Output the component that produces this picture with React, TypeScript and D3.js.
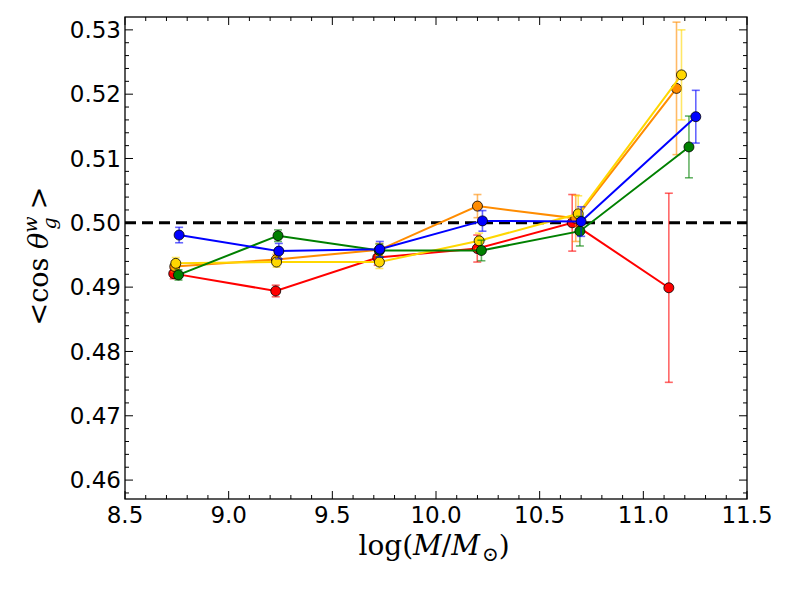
import React, { useRef, useEffect } from 'react';
import * as d3 from 'd3';

// mass bins (log M/Msun) per sample, slightly offset in x
const redX = [8.735, 9.227, 9.719, 10.199, 10.657, 11.123];
const redY = [0.4921, 0.4894, 0.4946, 0.496, 0.5, 0.4899];
const redErr = [0.0008, 0.0009, 0.0012, 0.0021, 0.0044, 0.0147];

const orangeX = [8.74, 9.23, 9.727, 10.2, 10.674, 11.16];
const orangeY = [0.4932, 0.4943, 0.4958, 0.5026, 0.5007, 0.5209];
const orangeErr = [0.0008, 0.0008, 0.001, 0.0018, 0.0036, 0.0103];

const yellowX = [8.745, 9.231, 9.727, 10.208, 10.686, 11.184];
const yellowY = [0.4937, 0.4939, 0.4939, 0.4972, 0.5014, 0.523];
const yellowErr = [0.0009, 0.0008, 0.001, 0.0012, 0.0028, 0.007];

const greenX = [8.758, 9.238, 9.727, 10.219, 10.694, 11.22];
const greenY = [0.4919, 0.498, 0.4957, 0.4957, 0.4987, 0.5118];
const greenErr = [0.0008, 0.0009, 0.001, 0.0016, 0.0023, 0.0048];

const blueX = [8.761, 9.242, 9.729, 10.224, 10.7, 11.253];
const blueY = [0.4981, 0.4956, 0.4959, 0.5003, 0.5002, 0.5165];
const blueErr = [0.0012, 0.0012, 0.0012, 0.0016, 0.0023, 0.0041];

const xTicks = [8.5, 9.0, 9.5, 10.0, 10.5, 11.0, 11.5];
const yTicks = [0.46, 0.47, 0.48, 0.49, 0.5, 0.51, 0.52, 0.53];

interface Series {
  color: string;
  xs: number[];
  ys: number[];
  errs: number[];
}

const series: Series[] = [
  { color: '#ff0000', xs: redX, ys: redY, errs: redErr },
  { color: '#ff8c00', xs: orangeX, ys: orangeY, errs: orangeErr },
  { color: '#ffd700', xs: yellowX, ys: yellowY, errs: yellowErr },
  { color: '#008000', xs: greenX, ys: greenY, errs: greenErr },
  { color: '#0000ff', xs: blueX, ys: blueY, errs: blueErr },
];

function App() {
  const svgRef = useRef<SVGSVGElement>(null);

  useEffect(() => {
    const svg = d3.select(svgRef.current);
    svg.selectAll('*').remove();

    const left = 125;
    const right = 747;
    const top = 17;
    const bottom = 499;

    const x = d3.scaleLinear().domain([8.5, 11.5]).range([left, right]);
    const y = d3.scaleLinear().domain([0.45706, 0.532]).range([bottom, top]);

    const g = svg.append('g');

    // reference line at 0.5
    g.append('line')
      .attr('x1', left)
      .attr('x2', right)
      .attr('y1', y(0.5))
      .attr('y2', y(0.5))
      .attr('stroke', '#000')
      .attr('stroke-width', 3)
      .attr('stroke-dasharray', '11,6');

    series.forEach((s) => {
      const pts = s.xs.map((v, i) => ({ x: v, y: s.ys[i], e: s.errs[i] }));
      const sg = g.append('g');

      // error bars
      const eb = sg.append('g').attr('stroke', s.color).attr('stroke-opacity', 0.6).attr('stroke-width', 1.6);
      pts.forEach((p) => {
        const px = x(p.x);
        eb.append('line').attr('x1', px).attr('x2', px).attr('y1', y(p.y - p.e)).attr('y2', y(p.y + p.e));
        [p.y - p.e, p.y + p.e].forEach((v) => {
          eb.append('line')
            .attr('x1', px - 4)
            .attr('x2', px + 4)
            .attr('y1', y(v))
            .attr('y2', y(v));
        });
      });

      const line = d3
        .line<{ x: number; y: number }>()
        .x((d) => x(d.x))
        .y((d) => y(d.y));

      sg.append('path')
        .attr('d', line(pts))
        .attr('fill', 'none')
        .attr('stroke', s.color)
        .attr('stroke-width', 2);

      sg.selectAll('circle')
        .data(pts)
        .enter()
        .append('circle')
        .attr('cx', (d) => x(d.x))
        .attr('cy', (d) => y(d.y))
        .attr('r', 5)
        .attr('fill', s.color)
        .attr('stroke', '#000')
        .attr('stroke-width', 0.8);
    });

    // frame
    g.append('rect')
      .attr('x', left)
      .attr('y', top)
      .attr('width', right - left)
      .attr('height', bottom - top)
      .attr('fill', 'none')
      .attr('stroke', '#000')
      .attr('stroke-width', 1.3);

    // ticks, inward on all four sides
    const ticks = g.append('g').attr('stroke', '#000').attr('stroke-width', 1);
    const xMinor = d3.range(85, 116).map((v) => v / 10);
    const yMinor = d3.range(229, 266).map((v) => v / 500);
    xMinor.forEach((v) => {
      const major = Math.abs(v * 2 - Math.round(v * 2)) < 1e-6;
      const len = major ? 8 : 4;
      ticks.append('line').attr('x1', x(v)).attr('x2', x(v)).attr('y1', bottom).attr('y2', bottom - len);
      ticks.append('line').attr('x1', x(v)).attr('x2', x(v)).attr('y1', top).attr('y2', top + len);
    });
    yMinor.forEach((v) => {
      if (v < 0.45706 || v > 0.532) return;
      const major = Math.abs(v * 100 - Math.round(v * 100)) < 1e-6;
      const len = major ? 8 : 4;
      ticks.append('line').attr('x1', left).attr('x2', left + len).attr('y1', y(v)).attr('y2', y(v));
      ticks.append('line').attr('x1', right).attr('x2', right - len).attr('y1', y(v)).attr('y2', y(v));
    });

    const tickFont = 'DejaVu Sans';
    g.append('g')
      .selectAll('text')
      .data(xTicks)
      .enter()
      .append('text')
      .attr('x', (d) => x(d))
      .attr('y', 523)
      .attr('text-anchor', 'middle')
      .attr('font-family', tickFont)
      .attr('font-size', 23)
      .text((d) => d.toFixed(1));

    g.append('g')
      .selectAll('text')
      .data(yTicks)
      .enter()
      .append('text')
      .attr('x', left - 4)
      .attr('y', (d) => y(d))
      .attr('dy', '0.36em')
      .attr('text-anchor', 'end')
      .attr('font-family', tickFont)
      .attr('font-size', 23)
      .text((d) => d.toFixed(2));

    // x axis label
    const xl = g
      .append('text')
      .attr('x', 434)
      .attr('y', 555)
      .attr('text-anchor', 'middle')
      .attr('font-family', 'DejaVu Serif')
      .attr('font-size', 28);
    xl.append('tspan').text('log(');
    xl.append('tspan').attr('font-style', 'italic').text('M');
    xl.append('tspan').text('/');
    xl.append('tspan').attr('font-style', 'italic').text('M');
    xl.append('tspan').attr('font-size', 20).attr('dy', 6).attr('dx', 2).text('⊙');
    xl.append('tspan').attr('dy', -6).text(')');

    // y axis label
    const yl = g
      .append('text')
      .attr('transform', 'translate(48,256) rotate(-90)')
      .attr('text-anchor', 'middle')
      .attr('font-family', 'DejaVu Serif')
      .attr('font-size', 27);
    yl.append('tspan').text('<cos ');
    yl.append('tspan').attr('font-style', 'italic').text('θ');
    yl.append('tspan').attr('font-style', 'italic').attr('font-size', 19).attr('dy', -11).text('w');
    yl.append('tspan').attr('font-style', 'italic').attr('font-size', 19).attr('dx', -13).attr('dy', 19).text('g');
    yl.append('tspan').attr('dy', -8).attr('dx', 8).text('>');
  }, []);

  return (
    <svg
      ref={svgRef}
      width={789}
      height={592}
      style={{ position: 'absolute', left: 0, top: 0, background: '#fff' }}
    />
  );
}

export default App;
